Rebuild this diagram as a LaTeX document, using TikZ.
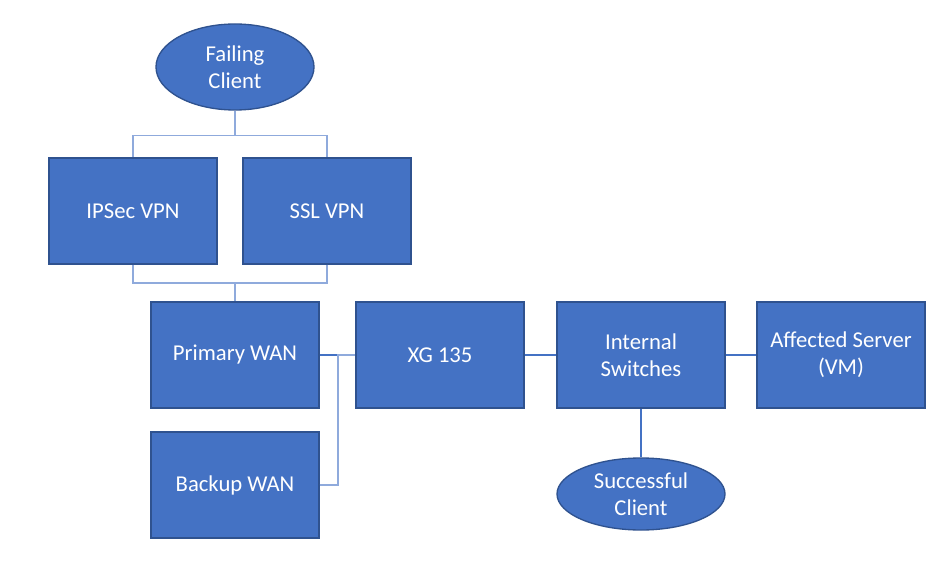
\documentclass[tikz,border=0pt]{standalone}
\usepackage{fontspec}
\setmainfont{Carlito}
\usetikzlibrary{shapes.geometric}
\definecolor{boxfill}{HTML}{4472C4}
\definecolor{boxline}{HTML}{2F528F}
\definecolor{connA}{HTML}{4472C4}
\definecolor{connB}{HTML}{8FAADC}
\tikzset{
  box/.style={draw=boxline, line width=1pt, fill=boxfill, text=white, minimum width=126pt, minimum height=79.5pt, inner sep=0pt, align=center, font=\fontsize{17}{20.5}\selectfont},
  oval/.style={ellipse, draw=boxline, line width=1pt, fill=boxfill, text=white, inner sep=0pt, align=center, font=\fontsize{17}{20.5}\selectfont},
  conn/.style={draw=connA, line width=0.8pt},
  connl/.style={draw=connB, line width=1pt},
}
\begin{document}
\begin{tikzpicture}[x=0.75pt, y=-0.75pt]
\useasboundingbox (0,0) rectangle (949,577);
\node[oval, minimum width=118.5pt, minimum height=64.5pt] (fc) at (235,67) {Failing\\Client};
\node[box] (ipsec) at (133,211) {IPSec VPN};
\node[box] (ssl) at (327,211) {SSL VPN};
\node[box] (pwan) at (235,355) {Primary WAN};
\node[box] (xg) at (440,355) {XG 135};
\node[box] (isw) at (641,355) {Internal\\Switches};
\node[box] (srv) at (841,355) {Affected Server\\(VM)};
\node[box] (bwan) at (235,485) {Backup WAN};
\node[oval, minimum width=126pt, minimum height=54pt] (sc) at (641,494) {Successful\\Client};
\coordinate (bx) at (338,485);
% connectors
\draw[connl] (fc.south) -- ++(0,25) -| (ipsec.north);
\draw[connl] (fc.south) -- ++(0,25) -| (ssl.north);
\draw[connl] (ipsec.south) |- (235,283) -- (pwan.north);
\draw[connl] (ssl.south) |- (235,283);
\draw[conn] (pwan.east) -- (xg.west);
\draw[connl] (bwan.east) -- (bx) |- (xg.west);
\draw[conn] (xg.east) -- (isw.west);
\draw[conn] (isw.east) -- (srv.west);
\draw[conn] (isw.south) -- (sc.north);
\end{tikzpicture}
\end{document}
